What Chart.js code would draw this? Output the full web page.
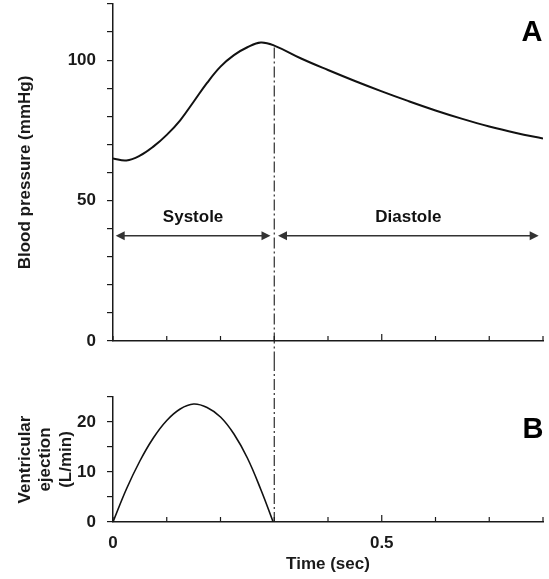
<!DOCTYPE html>
<html>
<head>
<meta charset="utf-8">
<script src="https://cdn.jsdelivr.net/npm/chart.js@4.4.1/dist/chart.umd.min.js"></script>
<style>
  html, body { margin: 0; padding: 0; background: #fff; }
  #wrap { position: relative; width: 549px; height: 579px; }
  #wrap canvas { position: absolute; left: 0; }
  #pressure { top: 0; }
  #ejection { top: 360px; }
</style>
</head>
<body>
<div id="wrap">
  <canvas id="pressure" width="549" height="360"></canvas>
  <canvas id="ejection" width="549" height="219"></canvas>
</div>
<script>
// panel A: aortic blood pressure (mmHg) over one beat
const timeA = [0, 0.025, 0.05, 0.075, 0.1, 0.125, 0.15, 0.175, 0.2, 0.225, 0.25, 0.275, 0.3,
               0.35, 0.4, 0.45, 0.5, 0.55, 0.6, 0.65, 0.7, 0.75, 0.8];
const pressureA = [65.0, 64.3, 66.0, 69.2, 73.4, 78.6, 85.2, 91.9, 97.7, 101.8, 104.6, 106.3, 105.2,
                   100.6, 96.5, 92.6, 88.9, 85.4, 82.1, 79.1, 76.4, 74.1, 72.1];

// panel B: ventricular ejection (L/min)
const timeB = [0, 0.025, 0.05, 0.075, 0.1, 0.125, 0.15, 0.175, 0.2, 0.225, 0.25, 0.275, 0.298];
const ejectionB = [0, 6.6, 12.2, 16.8, 20.3, 22.6, 23.6, 22.9, 21.0, 17.6, 12.8, 6.5, 0];

// labelled ticks
const pressureTicks = [0, 50, 100];
const ejectionTicks = [0, 10, 20];
const timeTicks = [0, 0.5];

// phase arrows (in data units of panel A)
const phaseNames = ['Systole', 'Diastole'];
const phaseStart = [0.005, 0.307];
const phaseEnd = [0.293, 0.792];
const phaseArrowLevel = 37.5;
const phaseLabelLevel = 44;
const systoleEnd = 0.3;

const FONT = "'Liberation Sans', Arial, sans-serif";
const INK = '#1a1a1a';

function onlyTicks(list) {
  return v => {
    const hit = list.find(t => Math.abs(t - v) < 1e-6);
    return hit === undefined ? '' : String(hit);
  };
}

function innerXTicks(chart) {
  const {ctx, chartArea, scales: {x}} = chart;
  ctx.save();
  ctx.strokeStyle = INK;
  ctx.lineWidth = 1.2;
  x.ticks.forEach(t => {
    const px = x.getPixelForValue(t.value);
    const len = Math.abs(t.value - 0.5) < 1e-6 ? 7 : 5;
    ctx.beginPath();
    ctx.moveTo(px, chartArea.bottom);
    ctx.lineTo(px, chartArea.bottom - len);
    ctx.stroke();
  });
  ctx.restore();
}

function dashDot(ctx, x, y1, y2) {
  ctx.save();
  ctx.strokeStyle = INK;
  ctx.lineWidth = 1.1;
  ctx.setLineDash([11, 3, 2, 3]);
  ctx.beginPath();
  ctx.moveTo(x, y1);
  ctx.lineTo(x, y2);
  ctx.stroke();
  ctx.restore();
}

function arrow(ctx, x1, x2, y) {
  const head = 9, half = 4.5;
  ctx.beginPath();
  ctx.moveTo(x1 + head - 1, y);
  ctx.lineTo(x2 - head + 1, y);
  ctx.stroke();
  ctx.beginPath();
  ctx.moveTo(x1, y); ctx.lineTo(x1 + head, y - half); ctx.lineTo(x1 + head, y + half);
  ctx.closePath(); ctx.fill();
  ctx.beginPath();
  ctx.moveTo(x2, y); ctx.lineTo(x2 - head, y - half); ctx.lineTo(x2 - head, y + half);
  ctx.closePath(); ctx.fill();
}

function panelLetter(ctx, letter, x, y) {
  ctx.save();
  ctx.fillStyle = '#000';
  ctx.font = 'bold 29px ' + FONT;
  ctx.textAlign = 'center';
  ctx.textBaseline = 'middle';
  ctx.fillText(letter, x, y);
  ctx.restore();
}

const pressureOverlay = {
  id: 'pressureOverlay',
  afterDraw(chart) {
    const {ctx, chartArea, scales: {x, y}} = chart;
    innerXTicks(chart);
    const px = x.getPixelForValue(systoleEnd);
    const atEnd = pressureA[timeA.indexOf(systoleEnd)];
    dashDot(ctx, px, y.getPixelForValue(atEnd) + 2, chart.height);

    ctx.save();
    ctx.strokeStyle = '#333';
    ctx.fillStyle = '#333';
    ctx.lineWidth = 1.6;
    const ay = y.getPixelForValue(phaseArrowLevel);
    const ly = y.getPixelForValue(phaseLabelLevel);
    phaseNames.forEach((name, i) => {
      const x1 = x.getPixelForValue(phaseStart[i]);
      const x2 = x.getPixelForValue(phaseEnd[i]);
      arrow(ctx, x1, x2, ay);
      ctx.fillStyle = '#111';
      ctx.font = 'bold 17px ' + FONT;
      ctx.textAlign = 'center';
      ctx.textBaseline = 'middle';
      ctx.fillText(name, (x1 + x2) / 2, ly);
      ctx.fillStyle = '#333';
    });
    ctx.restore();
    panelLetter(ctx, 'A', chartArea.right - 11, chartArea.top + 29);
  }
};

const ejectionOverlay = {
  id: 'ejectionOverlay',
  afterDraw(chart) {
    const {ctx, chartArea, scales: {x}} = chart;
    innerXTicks(chart);
    dashDot(ctx, x.getPixelForValue(systoleEnd), 0, chartArea.bottom);
    panelLetter(ctx, 'B', chartArea.right - 10, chartArea.top + 33);
  }
};

const tickFont = { family: FONT, size: 17, weight: 'bold' };

function yAxis(max, step, labelled, title) {
  return {
    min: 0, max: max,
    border: { color: INK, width: 1.5 },
    grid: { drawOnChartArea: false, color: INK, lineWidth: 1.2, tickLength: 6 },
    ticks: { stepSize: step, autoSkip: false, padding: 11, color: INK, font: tickFont,
             callback: onlyTicks(labelled) },
    title: { display: true, text: title, color: INK, font: tickFont, padding: { top: 15, bottom: 0 } },
    afterFit: s => { s.width = 113; s.paddingTop = 0; s.paddingBottom = 0; }
  };
}

new Chart(document.getElementById('pressure'), {
  type: 'line',
  data: {
    datasets: [{
      data: timeA.map((t, i) => ({ x: t, y: pressureA[i] })),
      borderColor: '#111',
      borderWidth: 2,
      pointRadius: 0,
      tension: 0.4
    }]
  },
  options: {
    responsive: false,
    animation: false,
    layout: { padding: { top: 4, right: 6, left: 0, bottom: 0 } },
    plugins: { legend: { display: false }, tooltip: { enabled: false } },
    scales: {
      x: {
        type: 'linear', min: 0, max: 0.8,
        border: { color: INK, width: 1.5 },
        grid: { drawOnChartArea: false, drawTicks: false },
        ticks: { stepSize: 0.1, display: false },
        afterFit: s => { s.height = 19; s.paddingLeft = 0; s.paddingRight = 0; }
      },
      y: yAxis(120, 10, pressureTicks, 'Blood pressure (mmHg)')
    }
  },
  plugins: [pressureOverlay]
});

new Chart(document.getElementById('ejection'), {
  type: 'line',
  data: {
    datasets: [{
      data: timeB.map((t, i) => ({ x: t, y: ejectionB[i] })),
      borderColor: '#111',
      borderWidth: 1.6,
      pointRadius: 0,
      tension: 0.4
    }]
  },
  options: {
    responsive: false,
    animation: false,
    layout: { padding: { top: 37, right: 6, left: 0, bottom: 0 } },
    plugins: { legend: { display: false }, tooltip: { enabled: false } },
    scales: {
      x: {
        type: 'linear', min: 0, max: 0.8,
        border: { color: INK, width: 1.5 },
        grid: { drawOnChartArea: false, drawTicks: false },
        ticks: { stepSize: 0.1, autoSkip: false, maxRotation: 0, padding: 11, color: INK,
                 font: tickFont, callback: onlyTicks(timeTicks) },
        title: { display: true, text: 'Time (sec)', color: INK, font: tickFont,
                 padding: { top: 0, bottom: 4 } },
        afterFit: s => { s.height = 57; s.paddingLeft = 0; s.paddingRight = 0; }
      },
      y: yAxis(25, 5, ejectionTicks, ['Ventricular', 'ejection', '(L/min)'])
    }
  },
  plugins: [ejectionOverlay]
});
</script>
</body>
</html>
